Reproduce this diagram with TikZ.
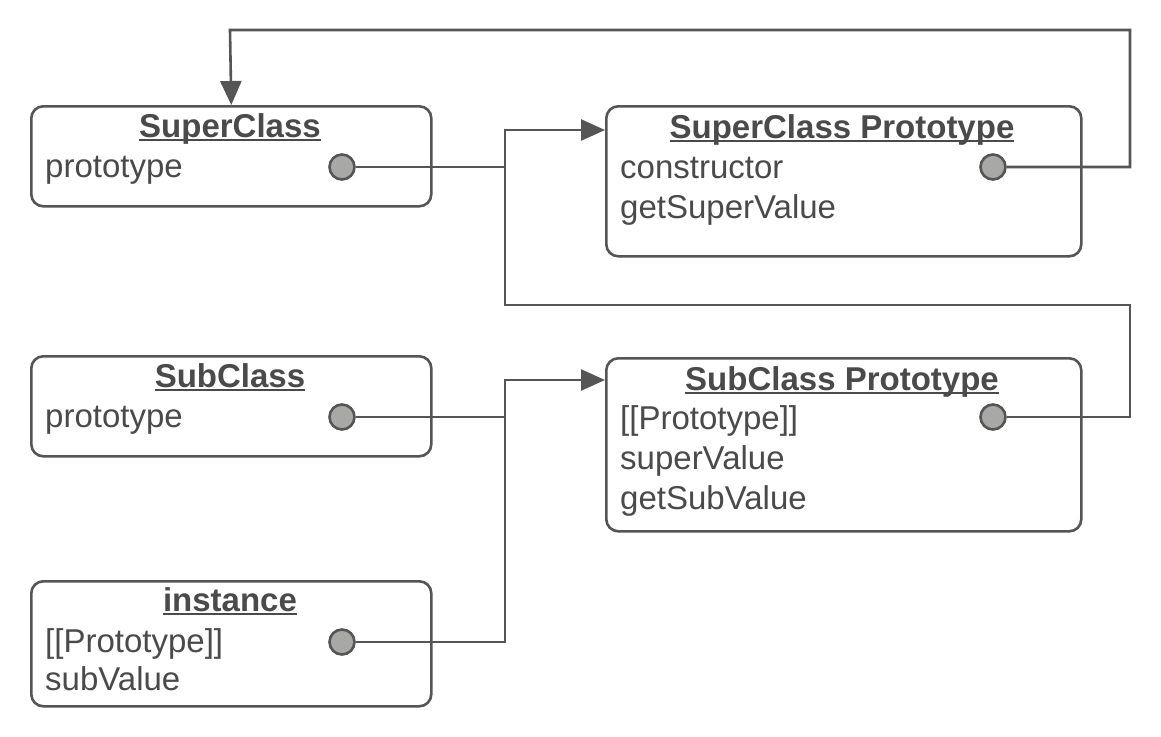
\documentclass[tikz,border=0pt]{standalone}
\usepackage{fontspec}
\setmainfont{Liberation Sans}
\usetikzlibrary{arrows.meta}
\definecolor{ln}{HTML}{555555}
\definecolor{tx}{HTML}{4A4A4A}
\definecolor{dotc}{HTML}{A8A9A6}
\newcommand\ulin[1]{\setbox0\hbox{#1}\rlap{\rule[-3.5pt]{\wd0}{2pt}}\box0}
\begin{document}
\begin{tikzpicture}[x=1pt,y=-1pt,
 box/.style={draw=ln, line width=2.6pt, rounded corners=12pt, anchor=north west, inner sep=0pt},
 ttl/.style={anchor=base, text=tx, font=\fontsize{33}{40}\selectfont\bfseries, inner sep=0pt},
 fld/.style={anchor=base west, text=tx, font=\fontsize{33}{40}\selectfont, inner sep=0pt},
 pin/.style={circle, draw=ln, fill=dotc, line width=2.6pt, minimum size=25pt, inner sep=0pt},
 conn/.style={draw=ln, line width=2.6pt},
 arr/.style={conn, -{Triangle[length=24pt,width=21pt]}}
]
\fill[white] (0,0) rectangle (1161,736);
\useasboundingbox (0,0) rectangle (1161,736);

% SuperClass
\node[box, minimum width=400pt, minimum height=100pt] (sc) at (30,105) {};
\node[ttl] (sct) at (230,137) {\ulin{SuperClass}};
\node[fld] (scf) at (45,177) {prototype};
\node[pin] (scp) at (342,167) {};

% SuperClass Prototype
\node[box, minimum width=475pt, minimum height=150pt] (sp) at (605,105) {};
\node[ttl] (spt) at (842,138) {\ulin{SuperClass Prototype}};
\node[fld] (spf1) at (620,178) {constructor};
\node[fld] (spf2) at (620,218) {getSuperValue};
\node[pin] (spp) at (993,167) {};

% SubClass
\node[box, minimum width=400pt, minimum height=100pt] (bc) at (30,355) {};
\node[ttl] (bct) at (230,387) {\ulin{SubClass}};
\node[fld] (bcf) at (45,427) {prototype};
\node[pin] (bcp) at (342,417) {};

% SubClass Prototype
\node[box, minimum width=475pt, minimum height=173pt] (bp) at (605,357) {};
\node[ttl] (bpt) at (842,390) {\ulin{SubClass Prototype}};
\node[fld] (bpf1) at (620,429) {[[Prototype]]};
\node[fld] (bpf2) at (620,469) {superValue};
\node[fld] (bpf3) at (620,509) {getSubValue};
\node[pin] (bpp) at (993,417) {};

% instance
\node[box, minimum width=400pt, minimum height=125pt] (in) at (30,580) {};
\node[ttl] (int) at (230,611) {\ulin{instance}};
\node[fld] (inf1) at (45,652) {[[Prototype]]};
\node[fld] (inf2) at (45,690) {subValue};
\node[pin] (inp) at (342,642) {};

% routing points
\coordinate (r1) at (1130,417);
\coordinate (r2) at (1130,305);
\coordinate (b1) at (505,305);
\coordinate (b2) at (505,130);
\coordinate (t1) at (1130,167);
\coordinate (t2) at (1130,30);
\coordinate (t3) at (230,30);
\coordinate (l1) at (505,642);
\coordinate (l2) at (505,380);

% connectors
\draw[arr] (bpp.east) -- (r1) -- (r2) -- (b1) -- (b2) -- (b2 -| sp.west);
\draw[conn] (scp.east) -- (scp.east -| b1);
\draw[arr] (spp.east) -- (t1) -- (t2) -- (t3) -- (sc.north);
\draw[arr] (inp.east) -- (l1) -- (l2) -- (l2 -| bp.west);
\draw[conn] (bcp.east) -- (bcp.east -| l1);
\end{tikzpicture}
\end{document}
